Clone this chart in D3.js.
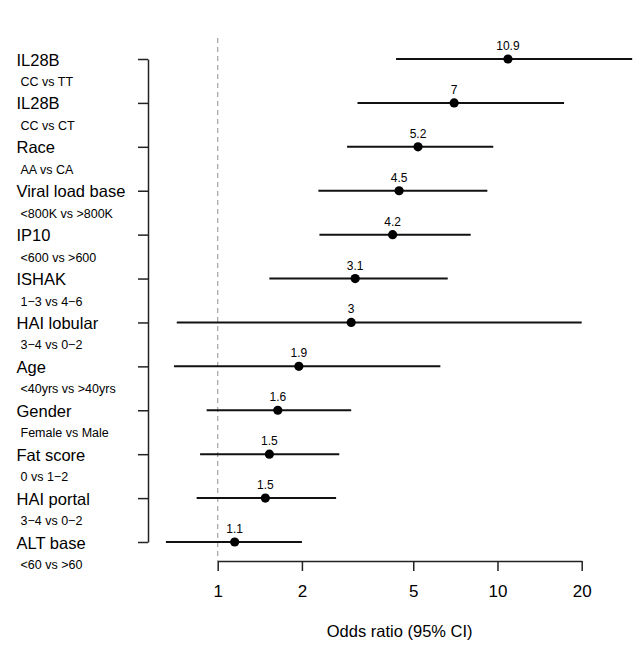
<!DOCTYPE html>
<html>
<head>
<meta charset="utf-8">
<script src="https://cdn.jsdelivr.net/npm/d3@7"></script>
<style>
  body { margin: 0; background: #fff; }
  svg { display: block; font-family: "Liberation Sans", Arial, Helvetica, sans-serif; }
</style>
</head>
<body>
<div id="plot"></div>
<script>
// forest plot data
const factors = ["IL28B", "IL28B", "Race", "Viral load base", "IP10", "ISHAK",
  "HAI lobular", "Age", "Gender", "Fat score", "HAI portal", "ALT base"];
const contrasts = ["CC vs TT", "CC vs CT", "AA vs CA", "<800K vs >800K", "<600 vs >600",
  "1\u22123 vs 4\u22126", "3\u22124 vs 0\u22122", "<40yrs vs >40yrs", "Female vs Male",
  "0 vs 1\u22122", "3\u22124 vs 0\u22122", "<60 vs >60"];
const oddsRatio = [10.9, 7, 5.2, 4.45, 4.22, 3.1, 3, 1.95, 1.64, 1.53, 1.48, 1.15];
const orLabels = ["10.9", "7", "5.2", "4.5", "4.2", "3.1", "3", "1.9", "1.6", "1.5", "1.5", "1.1"];
const ciLow = [4.34, 3.16, 2.9, 2.29, 2.31, 1.53, 0.714, 0.698, 0.913, 0.865, 0.841, 0.653];
const ciHigh = [30.3, 17.3, 9.66, 9.2, 8.02, 6.64, 20, 6.25, 3.0, 2.72, 2.65, 2.0];
const xTicks = [1, 2, 5, 10, 20];

const W = 640, H = 664;
const rows = d3.range(factors.length);

const svg = d3.select("#plot").append("svg")
  .attr("width", W).attr("height", H)
  .attr("viewBox", `0 0 ${W} ${H}`);

const x = d3.scaleLog().domain([1, 20]).range([217.7, 581.7]);
const y = d3.scalePoint().domain(rows).range([59, 542]);

// reference line at OR = 1
svg.append("line")
  .attr("x1", x(1)).attr("x2", x(1))
  .attr("y1", 38).attr("y2", 561)
  .attr("stroke", "#aaa").attr("stroke-width", 1.3)
  .attr("stroke-dasharray", "5,4");

// y axis (ticks only)
svg.append("g")
  .attr("transform", "translate(148,0)")
  .call(d3.axisLeft(y).tickSize(10).tickSizeOuter(0).tickFormat(""))
  .call(g => g.selectAll("path, line").attr("stroke", "#222").attr("stroke-width", 1.5));

// row labels
const lab = svg.append("g");
lab.selectAll(".factor").data(rows).join("text")
  .attr("class", "factor")
  .attr("x", 16.5).attr("y", i => y(i) + 6.5)
  .attr("font-size", 16.5).attr("fill", "#000")
  .text(i => factors[i]);
lab.selectAll(".contrast").data(rows).join("text")
  .attr("class", "contrast")
  .attr("x", 20.5).attr("y", i => y(i) + 27)
  .attr("font-size", 12.5).attr("fill", "#000")
  .text(i => contrasts[i]);

// x axis
svg.append("g")
  .attr("transform", "translate(0,561)")
  .call(d3.axisBottom(x).tickValues(xTicks).tickFormat(d3.format("d"))
    .tickSize(10).tickSizeOuter(0).tickPadding(14))
  .call(g => g.selectAll("path, line").attr("stroke", "#222").attr("stroke-width", 1.5))
  .call(g => g.selectAll("text").attr("font-size", 17).attr("fill", "#000")
    .attr("font-family", "Liberation Sans, Arial, sans-serif"));

svg.append("text")
  .attr("x", (x(1) + x(20)) / 2).attr("y", 637)
  .attr("text-anchor", "middle").attr("font-size", 16.5).attr("fill", "#000")
  .text("Odds ratio (95% CI)");

// confidence intervals, points and labels
const marks = svg.append("g");
marks.selectAll(".ci").data(rows).join("line")
  .attr("class", "ci")
  .attr("x1", i => x(ciLow[i])).attr("x2", i => x(ciHigh[i]))
  .attr("y1", i => y(i)).attr("y2", i => y(i))
  .attr("stroke", "#111").attr("stroke-width", 2);
marks.selectAll(".pt").data(rows).join("circle")
  .attr("class", "pt")
  .attr("cx", i => x(oddsRatio[i])).attr("cy", i => y(i))
  .attr("r", 4.6).attr("fill", "#000");
marks.selectAll(".orlab").data(rows).join("text")
  .attr("class", "orlab")
  .attr("x", i => x(oddsRatio[i])).attr("y", i => y(i) - 9)
  .attr("text-anchor", "middle").attr("font-size", 12).attr("fill", "#000")
  .text(i => orLabels[i]);
</script>
</body>
</html>
